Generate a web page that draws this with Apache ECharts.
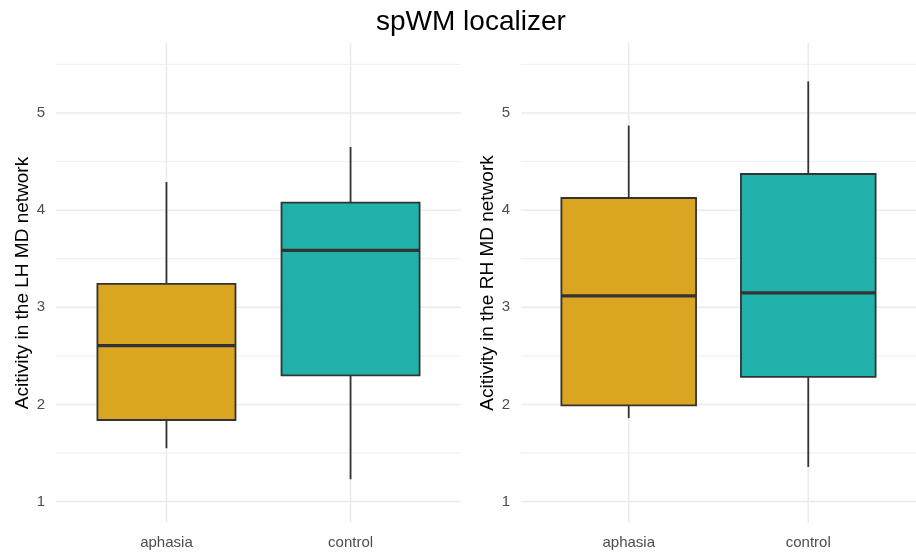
<!DOCTYPE html>
<html><head><meta charset="utf-8">
<script src="https://cdn.jsdelivr.net/npm/echarts@6/dist/echarts.min.js"></script>
<style>html,body{margin:0;padding:0;background:#fff}#c{width:916px;height:552px}</style>
</head><body><div id="c"></div>
<script>
// ---- data ----
const categories = ['aphasia', 'control'];
const lhLow = [1.55, 1.23];
const lhQ1 = [1.84, 2.30];
const lhMedian = [2.605, 3.586];
const lhQ3 = [3.24, 4.077];
const lhHigh = [4.29, 4.65];
const rhLow = [1.86, 1.357];
const rhQ1 = [1.99, 2.283];
const rhMedian = [3.117, 3.148];
const rhQ3 = [4.125, 4.372];
const rhHigh = [4.87, 5.325];
const yTicks = [1, 2, 3, 4, 5];
const yMinorTicks = [1.5, 2.5, 3.5, 4.5, 5.5];
const xTicks = [1, 2];

// ---- style ----
const FONT = 'Liberation Sans';
const fills = ['#DAA520', '#20B2AA'];
const edge = '#333333';

function boxRows(low, q1, med, q3, high) {
  return categories.map((c, i) => [i + 1, low[i], q1[i], med[i], q3[i], high[i], i]);
}
function gridRows() {
  const rows = [];
  yTicks.forEach(v => rows.push([1, v, 0]));
  yMinorTicks.forEach(v => rows.push([1, v, 1]));
  xTicks.forEach(v => rows.push([v, 3, 2]));
  return rows;
}

function renderBox(params, api) {
  const x = api.value(0);
  const lo = api.coord([x, api.value(1)]);
  const q1 = api.coord([x, api.value(2)]);
  const med = api.coord([x, api.value(3)]);
  const q3 = api.coord([x, api.value(4)]);
  const hi = api.coord([x, api.value(5)]);
  const w = api.size([0.75, 0])[0];
  const color = fills[api.value(6)];
  const ls = { stroke: edge, lineWidth: 1.8 };
  return {
    type: 'group', children: [
      { type: 'line', shape: { x1: lo[0], y1: lo[1], x2: q1[0], y2: q1[1] }, style: ls },
      { type: 'line', shape: { x1: q3[0], y1: q3[1], x2: hi[0], y2: hi[1] }, style: ls },
      { type: 'rect', shape: { x: q1[0] - w / 2, y: q3[1], width: w, height: q1[1] - q3[1] }, style: { fill: color, stroke: edge, lineWidth: 1.8 } },
      { type: 'line', shape: { x1: med[0] - w / 2, y1: med[1], x2: med[0] + w / 2, y2: med[1] }, style: { stroke: edge, lineWidth: 3.3 } }
    ]
  };
}

function renderGrid(params, api) {
  const cs = params.coordSys;
  const kind = api.value(2);
  if (kind === 2) {
    const p = api.coord([api.value(0), 3]);
    return { type: 'line', shape: { x1: p[0], y1: cs.y, x2: p[0], y2: cs.y + cs.height }, style: { stroke: '#EBEBEB', lineWidth: 1.5 } };
  }
  const p = api.coord([1, api.value(1)]);
  return {
    type: 'line', shape: { x1: cs.x, y1: p[1], x2: cs.x + cs.width, y2: p[1] },
    style: { stroke: kind === 0 ? '#EBEBEB' : '#F1F1F1', lineWidth: kind === 0 ? 1.5 : 1.3 }
  };
}

const grids = [
  { left: 56, top: 43, width: 405, height: 480 },
  { left: 521, top: 43, width: 405, height: 480 }
];
const axisTitles = ['Acitivity in the LH MD network', 'Acitivity in the RH MD network'];

const chart = echarts.init(document.getElementById('c'), null, { renderer: 'canvas' });
chart.setOption({
  animation: false,
  backgroundColor: '#ffffff',
  textStyle: { fontFamily: FONT },
  title: {
    text: 'spWM localizer', left: 371, top: 3,
    textStyle: { fontFamily: FONT, fontSize: 28, fontWeight: 'normal', color: '#000000' }
  },
  grid: grids,
  xAxis: [0, 1].map(g => ({
    type: 'value', gridIndex: g, min: 0.4, max: 2.6,
    axisLine: { show: false }, axisTick: { show: false, customValues: xTicks },
    splitLine: { show: false },
    axisLabel: {
      customValues: xTicks, margin: 12, fontSize: 15, color: '#4D4D4D', fontFamily: FONT,
      formatter: v => categories[Math.round(v) - 1] || ''
    }
  })),
  yAxis: [0, 1].map(g => ({
    type: 'value', gridIndex: g, min: 0.78, max: 5.72,
    name: axisTitles[g], nameLocation: 'middle', nameGap: 24,
    nameTextStyle: { fontFamily: FONT, fontSize: 19, color: '#000000' },
    axisLine: { show: false }, axisTick: { show: false, customValues: yTicks },
    splitLine: { show: false },
    axisLabel: { customValues: yTicks, margin: 11, fontSize: 15, color: '#4D4D4D', fontFamily: FONT }
  })),
  series: [
    { type: 'custom', xAxisIndex: 0, yAxisIndex: 0, z: 1, silent: true, renderItem: renderGrid, data: gridRows() },
    { type: 'custom', xAxisIndex: 1, yAxisIndex: 1, z: 1, silent: true, renderItem: renderGrid, data: gridRows() },
    { type: 'custom', name: 'LH', xAxisIndex: 0, yAxisIndex: 0, z: 3, renderItem: renderBox, data: boxRows(lhLow, lhQ1, lhMedian, lhQ3, lhHigh) },
    { type: 'custom', name: 'RH', xAxisIndex: 1, yAxisIndex: 1, z: 3, renderItem: renderBox, data: boxRows(rhLow, rhQ1, rhMedian, rhQ3, rhHigh) }
  ]
});
</script>
</body></html>
